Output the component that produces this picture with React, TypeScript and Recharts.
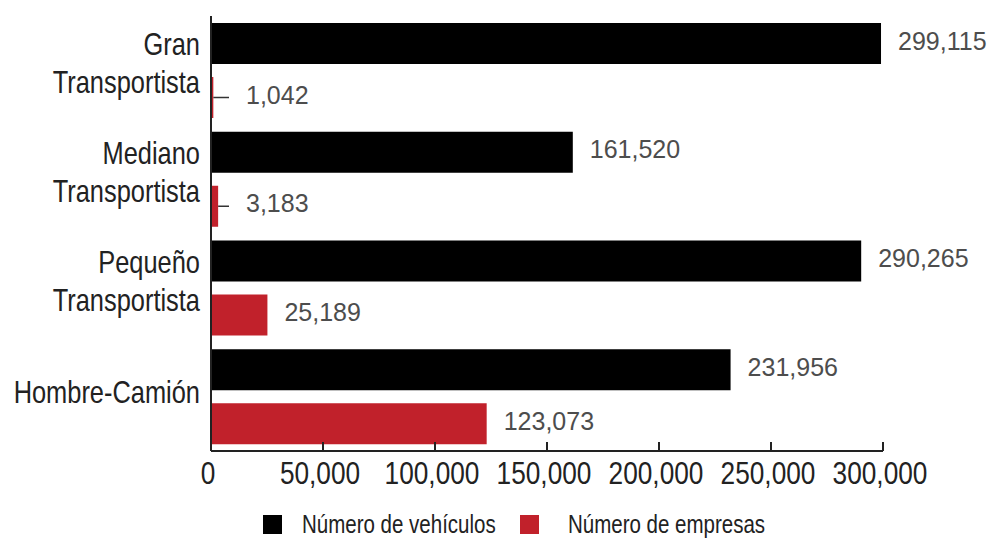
import React from "react";
import { BarChart, Bar, XAxis, YAxis, Legend, LabelList } from "recharts";

const categories = [
  "Gran Transportista",
  "Mediano Transportista",
  "Pequeño Transportista",
  "Hombre-Camión",
];
const vehiculos = [299115, 161520, 290265, 231956];
const empresas = [1042, 3183, 25189, 123073];
const xTicks = [0, 50000, 100000, 150000, 200000, 250000, 300000];
const seriesNames = ["Número de vehículos", "Número de empresas"];
const seriesColors = ["#000000", "#c1212b"];

const data = categories.map((name, i) => ({
  name,
  vehiculos: vehiculos[i],
  empresas: empresas[i],
}));

const REGULAR = "'Liberation Sans', Arial, sans-serif";
const SQUEEZE = 0.82;
const fmt = (v: number) => v.toLocaleString("en-US");

// Narrow text: Liberation Sans squeezed horizontally (Arial Narrow look)
const NarrowText = ({ x, y, anchor, size, children }: any) => (
  <g transform={`translate(${x},${y}) scale(${SQUEEZE},1)`}>
    <text x={0} y={0} textAnchor={anchor} fontFamily={REGULAR} fontSize={size} fill="#222">
      {children}
    </text>
  </g>
);

const YTick = (props: any) => {
  const { y, payload } = props;
  const label: string = payload.value;
  const idx = label.indexOf(" ");
  const lines = idx > 0 ? [label.slice(0, idx), label.slice(idx + 1)] : [label];
  const tx = 200;
  if (lines.length === 1) {
    return (
      <NarrowText x={tx} y={y + 6} anchor="end" size={31}>
        {lines[0]}
      </NarrowText>
    );
  }
  return (
    <g>
      <NarrowText x={tx} y={y - 15} anchor="end" size={31}>
        {lines[0]}
      </NarrowText>
      <NarrowText x={tx} y={y + 23} anchor="end" size={31}>
        {lines[1]}
      </NarrowText>
    </g>
  );
};

const XTick = (props: any) => {
  const { x, y, payload } = props;
  return (
    <g>
      <line x1={x} x2={x} y1={y} y2={y - 9} stroke="#222" strokeWidth={2} />
      <NarrowText x={x - 3} y={y + 33} anchor="middle" size={32}>
        {fmt(payload.value)}
      </NarrowText>
    </g>
  );
};

const ValueLabel = (props: any) => {
  const { x, y, width, height, value } = props;
  const endX = Number(x) + Number(width);
  const cy = Number(y) + Number(height) / 2;
  const minX = 246;
  const lx = Math.max(endX + 17, minX);
  const needLeader = endX + 17 < minX;
  return (
    <g>
      {needLeader && (
        <line x1={endX} x2={229} y1={cy} y2={cy} stroke="#333" strokeWidth={1.5} />
      )}
      <text x={lx} y={cy + 6} textAnchor="start" fontFamily={REGULAR} fontSize={25} fill="#4d4d4d">
        {fmt(Number(value))}
      </text>
    </g>
  );
};

const legendText = (left: number, label: string) => (
  <span
    style={{
      position: "absolute",
      left,
      top: 0,
      height: 26,
      lineHeight: "26px",
      whiteSpace: "nowrap",
      transform: `scaleX(${SQUEEZE})`,
      transformOrigin: "left center",
      fontFamily: REGULAR,
      fontSize: 25,
      color: "#222",
    }}
  >
    {label}
  </span>
);

const legendBox = (left: number, color: string) => (
  <span
    style={{
      position: "absolute",
      left,
      top: 4,
      width: 19,
      height: 19,
      background: color,
    }}
  />
);

const LegendContent = () => (
  <div style={{ position: "relative", width: 992, height: 26 }}>
    {legendBox(263, seriesColors[0])}
    {legendText(302, seriesNames[0])}
    {legendBox(520, seriesColors[1])}
    {legendText(568, seriesNames[1])}
  </div>
);

export default function App() {
  return (
    <div style={{ position: "absolute", left: 0, top: 0, width: 992, height: 540, background: "#fff" }}>
      <BarChart
        width={992}
        height={540}
        data={data}
        layout="vertical"
        margin={{ top: 16, right: 109, bottom: 23, left: 0 }}
        barSize={41}
        barGap={13}
      >
        <XAxis
          type="number"
          domain={[0, 300000]}
          ticks={xTicks}
          interval={0}
          height={40}
          axisLine={{ stroke: "#222", strokeWidth: 2 }}
          tickLine={false}
          tickSize={0}
          tickMargin={0}
          tick={<XTick />}
        />
        <YAxis
          type="category"
          dataKey="name"
          width={211}
          axisLine={{ stroke: "#222", strokeWidth: 2 }}
          tickLine={false}
          tick={<YTick />}
          interval={0}
        />
        <Legend
          verticalAlign="bottom"
          content={<LegendContent />}
          wrapperStyle={{ position: "absolute", left: 0, top: 511, width: 992, height: 26 }}
        />
        <Bar dataKey="vehiculos" name={seriesNames[0]} fill={seriesColors[0]} isAnimationActive={false}>
          <LabelList dataKey="vehiculos" content={<ValueLabel />} />
        </Bar>
        <Bar dataKey="empresas" name={seriesNames[1]} fill={seriesColors[1]} isAnimationActive={false}>
          <LabelList dataKey="empresas" content={<ValueLabel />} />
        </Bar>
      </BarChart>
    </div>
  );
}
